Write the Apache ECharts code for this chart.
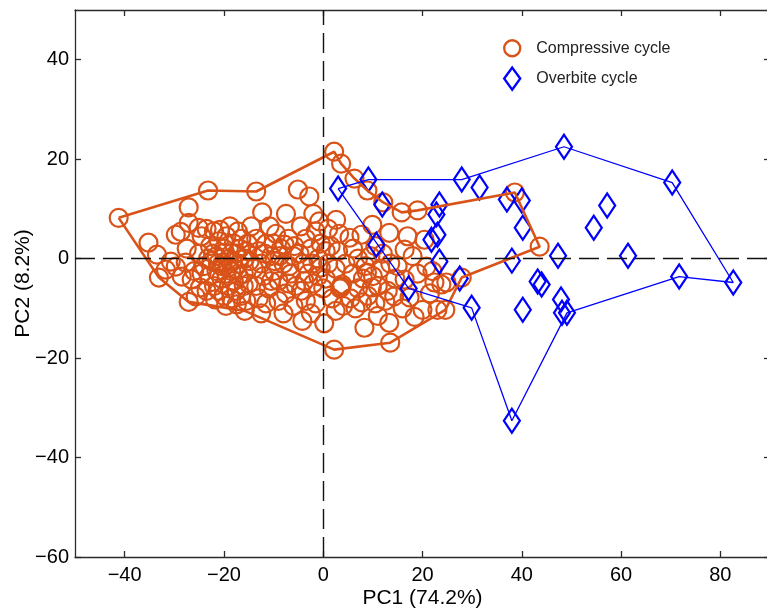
<!DOCTYPE html>
<html>
<head>
<meta charset="utf-8">
<title>PCA scores</title>
<script src="https://cdn.jsdelivr.net/npm/echarts@6/dist/echarts.min.js"></script>
<style>
  html, body { margin: 0; padding: 0; background: #fff; }
  #chart { width: 767px; height: 611px; }
</style>
</head>
<body>
<div id="chart"></div>
<script>
// Tick positions on both principal-component axes
const xTicks = [-40, -20, 0, 20, 40, 60, 80];
const yTicks = [-60, -40, -20, 0, 20, 40];

// Compressive cycle: boundary vertices (in drawing order), then interior scores [PC1, PC2]
const compressiveHull = [
  [-41.2, 8.2], [-23.2, 13.7], [-13.5, 13.5], [2.2, 21.5], [3.6, 19.1], [6.3, 16.1],
  [8.9, 13.7], [12.1, 11.3], [15.8, 9.3], [19.0, 9.7], [38.6, 13.3], [43.6, 2.4],
  [27.9, -3.8], [24.6, -10.3], [13.5, -16.9], [2.2, -18.3], [-15.8, -10.5],
  [-27.1, -8.7], [-33.1, -3.8]
];
const compressiveInner = [
  [-35.2, 3.2], [-33.5, 0.8], [-31.7, -2.2], [-30.7, -0.6], [-29.7, 4.8], [-28.7, 5.4],
  [-27.1, 7.2], [-27.1, 10.3], [-25.1, 6.2], [-29.7, -1.6], [-27.7, -0.8], [-28.5, -3.6],
  [-26.5, -4.2], [-25.7, -7.6], [-27.5, 2.0], [-26.0, -2.5], [-25.0, 1.0],
  [-24.5, 4.5], [-23.5, 6.0], [-22.8, 2.5], [-22.0, 5.5], [-21.5, 0.5], [-21.0, 3.5],
  [-20.5, -1.5], [-20.0, 2.0], [-19.5, 4.5], [-19.0, 0.0], [-18.5, -2.5], [-18.0, 3.0],
  [-17.5, 1.0], [-17.0, -1.0], [-16.5, 4.0], [-16.0, -3.0], [-15.5, 1.5], [-15.0, -5.0],
  [-24.0, -1.5], [-23.0, -3.5], [-22.5, -0.5], [-22.0, -5.5], [-21.5, -2.5], [-21.0, -6.5],
  [-20.5, -4.0], [-20.0, -7.5], [-19.5, -3.0], [-19.0, -5.5], [-18.5, -8.0], [-18.0, -4.5],
  [-17.5, -6.5], [-17.0, -3.5], [-16.5, -7.5], [-16.0, -5.5], [-15.5, -8.5], [-23.5, -6.5],
  [-24.5, -3.0], [-20.8, 5.8], [-18.8, 6.5], [-17.2, 5.5], [-19.8, 1.2], [-20.2, -0.8],
  [-21.2, -1.0], [-19.2, -1.8], [-18.2, -0.5], [-22.2, 1.0], [-23.2, 0.0], [-17.8, -2.0],
  [-16.8, 2.0], [-15.8, 0.0], [-15.2, 3.0], [-21.8, -8.2], [-19.6, -9.5], [-17.4, -9.2],
  [-24.8, -5.8],
  [-14.5, 6.5], [-13.5, 4.0], [-13.0, 1.5], [-12.5, -1.0], [-12.0, -3.5], [-11.5, 3.0],
  [-11.0, -6.0], [-10.5, 0.5], [-10.0, -2.5], [-9.5, 5.0], [-9.0, -4.5], [-8.5, 2.0],
  [-8.0, -1.0], [-7.5, -7.0], [-7.0, 4.0], [-6.5, -3.0], [-6.0, 0.5], [-5.5, -5.5],
  [-14.0, -2.0], [-13.5, -5.5], [-13.0, -8.0], [-12.5, -11.0], [-11.5, -9.0], [-10.5, -4.5],
  [-10.0, 3.0], [-9.0, -8.5], [-8.0, -11.0], [-7.0, -5.0], [-6.0, -9.5], [-12.3, 9.3],
  [-7.5, 9.0], [-5.1, 13.9], [-14.8, -0.5], [-11.8, 1.0], [-9.8, -0.5], [-8.8, 0.5],
  [-7.8, 2.8], [-6.8, -1.5], [-5.8, 2.5], [-10.8, 6.5],
  [-2.8, 12.5], [-2.0, 9.0], [-4.5, 6.5], [-3.5, 4.0], [-2.5, 2.0], [-1.5, 5.5],
  [-1.0, 0.0], [-0.5, 3.0], [0.5, 1.5], [1.0, -1.0], [-4.0, -1.0], [-3.0, -3.0],
  [-2.0, -5.0], [-1.0, -3.5], [0.0, -6.0], [-4.5, -6.5], [-3.5, -8.5], [-2.5, -11.0],
  [-1.5, -9.0], [0.5, -4.0], [1.5, 2.5], [1.0, 6.0], [-4.8, 1.0], [-3.8, -4.5],
  [-0.5, -1.8], [-2.2, -1.0], [1.8, -8.0], [-0.8, 7.5], [-4.2, -12.5], [0.2, -13.0],
  [2.6, 7.8], [5.3, 4.2], [7.7, 4.8], [9.9, 6.8], [3.6, -5.6], [3.6, -5.8],
  [3.8, -5.2], [3.4, -6.0], [2.5, -2.0], [4.5, -1.0], [6.0, -3.0], [7.0, -6.0],
  [8.0, -4.0], [9.0, -7.5], [10.0, -3.5], [11.0, -5.5], [8.5, -1.5], [9.5, 0.5],
  [7.0, 0.0], [5.5, -8.0], [6.5, -10.0], [4.0, -9.5], [8.3, -13.9], [10.5, -9.0],
  [11.5, -2.0], [2.5, -10.5], [3.0, 1.5], [6.0, 2.0], [10.5, 2.5], [12.0, 1.0],
  [9.8, -5.8], [8.8, -2.8], [7.8, -8.8], [3.2, 5.0], [11.0, -11.5],
  [13.3, 5.2], [16.4, 1.8], [13.5, -1.0], [14.5, -4.0], [13.0, -6.5], [14.3, -7.6],
  [17.4, -7.8], [13.3, -12.9], [18.4, -11.7], [20.0, -10.3], [20.4, 3.8], [20.8, -1.6],
  [22.4, -4.8], [23.8, -5.2], [24.8, -4.8], [23.0, -10.3], [16.4, -4.2], [15.0, -1.5],
  [18.0, 0.5], [17.0, 4.5], [21.5, -7.0], [16.0, -10.0], [12.5, -8.5], [19.0, -3.0],
  [22.0, -2.5]
];

// Overbite cycle: boundary vertices (in drawing order), then interior scores [PC1, PC2]
const overbiteHull = [
  [3.0, 14.1], [9.1, 15.9], [27.9, 15.9], [48.5, 22.5], [70.3, 15.3], [82.6, -4.8],
  [71.7, -3.6], [49.1, -10.9], [38.0, -32.6], [29.9, -9.9], [17.2, -6.0]
];
const overbiteInner = [
  [11.9, 10.9], [10.7, 2.8], [31.5, 14.3], [37.0, 11.9], [40.0, 11.7], [40.2, 6.2],
  [38.0, -0.4], [43.2, -4.6], [44.0, -5.2], [40.2, -10.3], [23.4, 10.9], [22.8, 8.9],
  [21.8, 3.8], [23.0, 4.8], [23.4, -0.6], [27.5, -4.0], [47.3, 0.6], [61.4, 0.6],
  [54.5, 6.2], [57.2, 10.7], [47.9, -8.2], [48.1, -10.9]
];

const ORANGE = '#D95319';
const BLUE = '#0000FF';
const AXIS = '#2b2b2b';
const FONT = 'Liberation Sans, Arial, Helvetica, sans-serif';

const fmt = v => (v < 0 ? '\u2212' + Math.abs(v) : String(v));
const closed = pts => pts.concat([pts[0]]);

const frameX = (position, showLabels) => ({
  type: 'value', position, min: -50, max: 90,
  axisLine: { show: true, onZero: false, lineStyle: { color: AXIS, width: 1.3 } },
  axisTick: { show: true, inside: true, length: 6, customValues: xTicks, lineStyle: { color: AXIS, width: 1.3 } },
  axisLabel: { show: showLabels, customValues: xTicks, formatter: fmt, margin: 8,
               color: '#000', fontSize: 20, fontFamily: FONT },
  splitLine: { show: false }
});
const frameY = (position, showLabels) => ({
  type: 'value', position, min: -60, max: 50,
  axisLine: { show: true, onZero: false, lineStyle: { color: AXIS, width: 1.3 } },
  axisTick: { show: true, inside: true, length: 6, customValues: yTicks, lineStyle: { color: AXIS, width: 1.3 } },
  axisLabel: { show: showLabels, customValues: yTicks, formatter: fmt, margin: 6,
               color: '#000', fontSize: 20, fontFamily: FONT },
  splitLine: { show: false }
});

const xBottom = Object.assign(frameX('bottom', true), {
  name: 'PC1 (74.2%)', nameLocation: 'middle', nameGap: 31, nameMoveOverlap: false,
  nameTextStyle: { color: '#000', fontSize: 21, fontFamily: FONT }
});
const yLeft = Object.assign(frameY('left', true), {
  name: 'PC2 (8.2%)', nameLocation: 'middle', nameGap: 41, nameMoveOverlap: false,
  nameTextStyle: { color: '#000', fontSize: 21, fontFamily: FONT }
});

const chart = echarts.init(document.getElementById('chart'), null, { renderer: 'canvas' });
chart.setOption({
  animation: false,
  backgroundColor: '#fff',
  grid: { left: 75, top: 10, width: 695, bottom: 54, containLabel: false, outerBoundsMode: 'none' },
  xAxis: [xBottom, frameX('top', false)],
  yAxis: [yLeft, frameY('right', false)],
  legend: {
    orient: 'vertical', left: 503, top: 39, padding: 0,
    itemWidth: 16, itemHeight: 22, itemGap: 9,
    textStyle: { color: '#222', fontSize: 16, fontFamily: FONT, padding: [0, 0, 0, 11] },
    data: [
      { name: 'Compressive cycle', icon: 'circle',
        itemStyle: { color: 'transparent', borderColor: ORANGE, borderWidth: 2.4 } },
      { name: 'Overbite cycle', icon: 'path://M8,0L16,11L8,22L0,11Z',
        itemStyle: { color: 'transparent', borderColor: BLUE, borderWidth: 2.4 } }
    ]
  },
  series: [
    {
      name: 'Compressive cycle', type: 'scatter', xAxisIndex: 0, yAxisIndex: 0,
      symbol: 'circle', symbolSize: 18,
      itemStyle: { color: 'transparent', borderColor: ORANGE, borderWidth: 2.2, opacity: 1 },
      emphasis: { disabled: true },
      data: compressiveHull.concat(compressiveInner),
      markLine: {
        silent: true, symbol: ['none', 'none'], label: { show: false },
        lineStyle: { color: '#111', width: 1.4, type: [20, 8] },
        data: [{ xAxis: 0 }, { yAxis: 0 }]
      }
    },
    {
      name: 'Compressive boundary', type: 'line', xAxisIndex: 0, yAxisIndex: 0,
      showSymbol: false, symbol: 'none',
      lineStyle: { color: ORANGE, width: 2.6 },
      emphasis: { disabled: true },
      data: closed(compressiveHull)
    },
    {
      name: 'Overbite cycle', type: 'scatter', xAxisIndex: 0, yAxisIndex: 0,
      symbol: 'diamond', symbolSize: [16, 24],
      itemStyle: { color: 'transparent', borderColor: BLUE, borderWidth: 2.3, opacity: 1 },
      emphasis: { disabled: true },
      data: overbiteHull.concat(overbiteInner)
    },
    {
      name: 'Overbite boundary', type: 'line', xAxisIndex: 0, yAxisIndex: 0,
      showSymbol: false, symbol: 'none',
      lineStyle: { color: BLUE, width: 1.3 },
      emphasis: { disabled: true },
      data: closed(overbiteHull)
    }
  ]
});
</script>
</body>
</html>
